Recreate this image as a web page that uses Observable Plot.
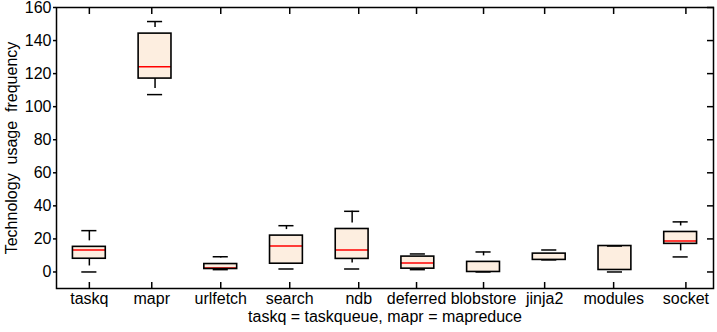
<!DOCTYPE html>
<html>
<head>
<meta charset="utf-8">
<script src="https://cdn.jsdelivr.net/npm/d3@7"></script>
<script src="https://cdn.jsdelivr.net/npm/@observablehq/plot@0.6"></script>
<style>
  html, body { margin: 0; padding: 0; background: #fff; }
  #chart svg { display: block; overflow: visible; }
</style>
</head>
<body>
<div id="chart"></div>
<script>
// Categories (box order) and the positions of their axis tick labels
const categories = ["taskq", "mapr", "urlfetch", "search", "ndb", "deferred", "blobstore", "jinja2", "modules", "socket"];
const tickPositions = [1, 1.95, 3, 4.05, 5.1, 5.98, 7, 7.93, 8.98, 10.08];
// Box-plot statistics
const lowWhisker  = [0,    107.3, 1.4, 1.8,  1.8,  1.4,  0,    7.3,  0,    9.1];
const q1          = [8,    117,   1.8, 5,    7.9,  2,    0,    7.3,  1.2,  17];
const median      = [13.3, 124.2, 2.4, 15.7, 13.3, 5.5,  0,    7.3,  15.7, 18.8];
const q3          = [15.2, 144.2, 4.8, 22,   26,   9.3,  6.1,  11.1, 15.7, 24.2];
const highWhisker = [25,   151.5, 9.2, 28,   36.7, 10.9, 12.1, 13.3, 15.7, 30.3];
const yTicks = [0, 20, 40, 60, 80, 100, 120, 140, 160];
const yLabel = "Technology\u00A0 usage\u00A0 frequency";
const xLabel = "taskq = taskqueue, mapr = mapreduce";

const rows = categories.map((c, i) => ({
  name: c, pos: i + 1,
  lo: lowWhisker[i], q1: q1[i], med: median[i], q3: q3[i], hi: highWhisker[i]
}));

const halfBox = 0.25, halfCap = 0.115;
const font = "'Liberation Sans', Arial, sans-serif";
const fs = 16;

const chart = Plot.plot({
  width: 717,
  height: 332,
  marginLeft: 56,
  marginRight: 4,
  marginTop: 7,
  marginBottom: 44,
  style: { fontFamily: font, fontSize: fs + "px", color: "#000", background: "#fff", overflow: "visible" },
  x: { domain: [0.5, 10.5] },
  y: { domain: [-10, 160] },
  marks: [
    // box fill
    Plot.rect(rows, { x1: d => d.pos - halfBox, x2: d => d.pos + halfBox, y1: "q1", y2: "q3", fill: "#fdeee0" }),
    // median (hidden by the outline where it coincides with a quartile)
    Plot.ruleY(rows, { filter: d => d.med !== d.q1 && d.med !== d.q3, y: "med", x1: d => d.pos - halfBox, x2: d => d.pos + halfBox, stroke: "#ff0000", strokeWidth: 1.5 }),
    // box outline
    Plot.rect(rows, { x1: d => d.pos - halfBox, x2: d => d.pos + halfBox, y1: "q1", y2: "q3", fill: "none", stroke: "#000", strokeWidth: 1.6 }),
    // whiskers (dashed, drawn from lower end upward)
    Plot.ruleX(rows, { x: "pos", y1: "q3", y2: "hi", stroke: "#000", strokeWidth: 1.5, strokeDasharray: "20,6", strokeDashoffset: 20 }),
    Plot.ruleX(rows, { x: "pos", y1: "lo", y2: "q1", stroke: "#000", strokeWidth: 1.5, strokeDasharray: "20,6", strokeDashoffset: 20 }),
    // caps
    Plot.ruleY(rows, { y: "hi", x1: d => d.pos - halfCap, x2: d => d.pos + halfCap, stroke: "#000", strokeWidth: 1.5 }),
    Plot.ruleY(rows, { y: "lo", x1: d => d.pos - halfCap, x2: d => d.pos + halfCap, stroke: "#000", strokeWidth: 1.5 }),
    // frame
    Plot.frame({ stroke: "#000", strokeWidth: 1.5 }),
    // left axis: labels + short outward ticks
    Plot.axisY({ anchor: "left", ticks: yTicks, tickSize: 3, tickPadding: 2, label: null, fontSize: fs, strokeWidth: 1.5 }),
    // right axis: inward ticks only
    Plot.axisY({ anchor: "right", ticks: yTicks, tickSize: -7, tickFormat: () => "", label: null, strokeWidth: 1.5 }),
    // bottom axis: inward ticks
    Plot.axisX({ anchor: "bottom", ticks: tickPositions, tickSize: -6, tickFormat: () => "", label: null, strokeWidth: 1.5 }),
    // bottom axis labels
    Plot.axisX({ anchor: "bottom", ticks: tickPositions, tickSize: 0, tickPadding: 4,
      tickFormat: d => categories[tickPositions.indexOf(d)], label: null, fontSize: fs }),
    // top axis: inward ticks
    Plot.axisX({ anchor: "top", ticks: tickPositions, tickSize: -6, tickFormat: () => "", label: null, strokeWidth: 1.5 }),
    // x label (caption)
    Plot.text([xLabel], { frameAnchor: "bottom", dy: 28, lineAnchor: "middle", textAnchor: "middle", fontSize: fs, fill: "#000" }),
    // y label
    Plot.text([yLabel], { frameAnchor: "left", dx: -45, rotate: -90, lineAnchor: "middle", textAnchor: "middle", fontSize: fs, fill: "#000" })
  ]
});

document.getElementById("chart").appendChild(chart);
</script>
</body>
</html>
